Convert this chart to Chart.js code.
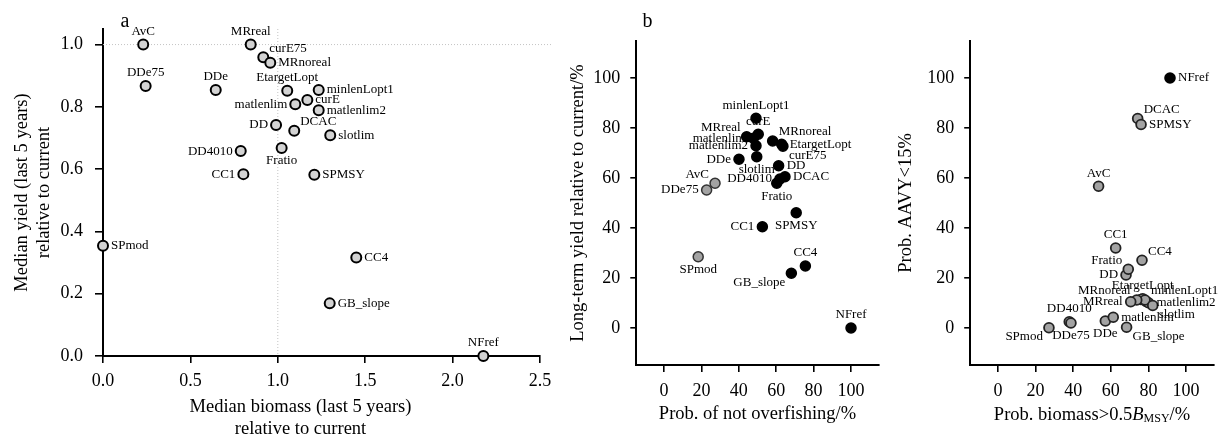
<!DOCTYPE html>
<html>
<head>
<meta charset="utf-8">
<script src="https://cdn.jsdelivr.net/npm/chart.js@4.4.1/dist/chart.umd.min.js"></script>
<style>
  body { margin: 0; background: #fff; }
  #wrap { position: relative; width: 1223px; height: 434px; overflow: hidden; background: #fff; }
  canvas { position: absolute; top: 0; }
</style>
</head>
<body>
<div id="wrap">
  <canvas id="panelA" width="560" height="460" style="left:0"></canvas>
  <canvas id="panelB" width="330" height="460" style="left:560px"></canvas>
  <canvas id="panelC" width="333" height="460" style="left:890px"></canvas>
</div>
<script>
// Management procedures, same order in every panel
const methods = ['AvC', 'CC1', 'CC4', 'curE', 'curE75', 'DCAC', 'DD', 'DD4010', 'DDe', 'DDe75',
  'EtargetLopt', 'Fratio', 'GB_slope', 'matlenlim', 'matlenlim2', 'minlenLopt1', 'MRnoreal',
  'MRreal', 'NFref', 'slotlim', 'SPmod', 'SPMSY'];

// (a) median biomass / yield over the last 5 years, relative to current
const biomassRel = [0.23, 0.803, 1.449, 1.169, 0.917, 1.094, 0.99, 0.788, 0.645, 0.244,
  1.054, 1.022, 1.297, 1.10, 1.234, 1.234, 0.957, 0.845, 2.176, 1.30, 0, 1.209];
const yieldRel = [1.0, 0.584, 0.316, 0.822, 0.959, 0.723, 0.742, 0.658, 0.854, 0.867,
  0.852, 0.668, 0.169, 0.808, 0.789, 0.854, 0.942, 1.0, 0, 0.709, 0.354, 0.582];

// (b) probability of not overfishing vs long-term yield, %
const probNotOverfishing = [27.3, 52.6, 75.6, 50.4, 63.6, 64.7, 61.3, 62.0, 40.1, 22.8,
  62.9, 60.3, 68.1, 47.8, 49.2, 49.2, 58.1, 44.2, 100, 49.6, 18.3, 70.7];
const longTermYield = [57.9, 40.5, 24.8, 77.5, 72.7, 60.5, 64.9, 59.6, 67.5, 55.2,
  73.5, 57.9, 21.9, 75.9, 72.9, 83.9, 74.8, 76.5, 0, 68.5, 28.5, 46.1];

// (c) probability biomass > 0.5 BMSY vs probability AAVY < 15%, %
const probAboveHalfBmsy = [53.5, 62.6, 76.6, 76.0, 78.8, 74.3, 68.1, 37.9, 57.1, 38.8,
  77.0, 69.3, 68.4, 61.3, 80.0, 78.2, 73.8, 70.6, 91.5, 82.3, 27.1, 76.1];
const probAavyBelow15 = [56.7, 32.0, 27.1, 11.4, 10.6, 83.8, 21.2, 2.5, 2.8, 2.0,
  11.7, 23.5, 0.3, 4.3, 10.1, 11.2, 11.2, 10.5, 100, 9.0, 0.1, 81.4];

const relTicksX = [0, 0.5, 1.0, 1.5, 2.0, 2.5];
const relTicksY = [0, 0.2, 0.4, 0.6, 0.8, 1.0];
const pctTicks = [0, 20, 40, 60, 80, 100];
const unitLevel = 1;

// which side of its point each name is written on ('' = no name)
const labelPosA = ['t', 'l', 'r', 'r', 'tr', 'tr', 'l', 'l', 't', 't',
  't', 'b', 'r', 'l', 'r', 'r', 'r', 't', 't', 'r', 'r', 'r'];
const labelPosB = ['tl', 'l', 't', 't', 'br', 'r', 'r', 'l', 'l', 'l',
  'r', 'b', 'bl', 'l', 'l', 't', 'tr', 'tl', 't', 'b', 'b', 'b'];
const labelPosC = ['t', 't', 'tr', '', '', 'tr', 'l', 't', 'b', 'b',
  't', 'tl', 'br', 'r', 'r', 'tr', 'tl', 'l', 'r', 'br', 'bl', 'r'];
const greyInB = ['AvC', 'DDe75', 'SPmod'];

const SERIF = '"Liberation Serif", "Times New Roman", serif';

// names written beside the points
const pointNames = {
  id: 'pointNames',
  afterDatasetsDraw(chart) {
    const ctx = chart.ctx;
    chart.data.datasets.forEach((ds, i) => {
      if (!ds.names) return;
      const meta = chart.getDatasetMeta(i);
      ctx.save();
      ctx.font = '13px ' + SERIF;
      ctx.fillStyle = '#000';
      ctx.textBaseline = 'middle';
      meta.data.forEach((pt, j) => {
        const pos = ds.namePos[j];
        if (!pos) return;
        let dx = 0, dy = 0, align = 'center';
        if (pos === 't') dy = -13;
        else if (pos === 'b') dy = 13;
        else if (pos === 'l') { dx = -8; align = 'right'; }
        else if (pos === 'r') { dx = 8; align = 'left'; }
        else {
          dx = pos[1] === 'l' ? -6 : 6;
          dy = pos[0] === 't' ? -9 : 9;
          align = pos[1] === 'l' ? 'right' : 'left';
        }
        ctx.textAlign = align;
        ctx.fillText(ds.names[j], pt.x + dx, pt.y + dy);
      });
      ctx.restore();
    });
  }
};

// dotted guides at 1.0 on both axes of panel a
const unitGuides = {
  id: 'unitGuides',
  beforeDatasetsDraw(chart) {
    const { ctx, chartArea: area, scales: { x, y } } = chart;
    const px = x.getPixelForValue(unitLevel);
    const py = y.getPixelForValue(unitLevel);
    ctx.save();
    ctx.strokeStyle = '#c4c4c4';
    ctx.lineWidth = 1;
    ctx.setLineDash([1, 2]);
    ctx.beginPath();
    ctx.moveTo(area.left, py);
    ctx.lineTo(area.right + 13, py);
    ctx.moveTo(px, area.top);
    ctx.lineTo(px, area.bottom);
    ctx.stroke();
    ctx.restore();
  }
};

function panelLetter(letter, x) {
  return {
    id: 'panelLetter',
    afterDraw(chart) {
      const ctx = chart.ctx;
      ctx.save();
      ctx.font = '20px ' + SERIF;
      ctx.fillStyle = '#000';
      ctx.textAlign = 'center';
      ctx.textBaseline = 'alphabetic';
      ctx.fillText(letter, x, 27);
      ctx.restore();
    }
  };
}

// two-line x title of panel a, sitting a little left of the axis centre
const biomassTitle = {
  id: 'biomassTitle',
  afterDraw(chart) {
    const { ctx, chartArea: area } = chart;
    const cx = (area.left + area.right) / 2 - 21;
    ctx.save();
    ctx.font = '18.5px ' + SERIF;
    ctx.fillStyle = '#000';
    ctx.textAlign = 'center';
    ctx.textBaseline = 'middle';
    ctx.fillText('Median biomass (last 5 years)', cx, area.bottom + 51);
    ctx.fillText('relative to current', cx, area.bottom + 73);
    ctx.restore();
  }
};

// x title of panel c: italic B with MSY subscript
const bmsyTitle = {
  id: 'bmsyTitle',
  afterDraw(chart) {
    const { ctx, chartArea: area } = chart;
    const parts = [
      { t: 'Prob. biomass>0.5', f: '18.5px ' + SERIF, dy: 0 },
      { t: 'B', f: 'italic 18.5px ' + SERIF, dy: 0 },
      { t: 'MSY', f: '12px ' + SERIF, dy: 4 },
      { t: '/%', f: '18.5px ' + SERIF, dy: 0 }
    ];
    ctx.save();
    ctx.fillStyle = '#000';
    ctx.textBaseline = 'middle';
    ctx.textAlign = 'left';
    let total = 0;
    parts.forEach(p => { ctx.font = p.f; p.w = ctx.measureText(p.t).width; total += p.w; });
    let x = (area.left + area.right) / 2 - total / 2;
    const y = area.bottom + 50;
    parts.forEach(p => { ctx.font = p.f; ctx.fillText(p.t, x, y + p.dy); x += p.w; });
    ctx.restore();
  }
};

function axis(dir, o) {
  return {
    type: 'linear',
    min: o.min,
    max: o.max,
    afterBuildTicks: s => { s.ticks = o.ticks.map(v => ({ value: v })); },
    afterFit: s => { if (dir === 'x') s.height = o.size; else s.width = o.size; },
    border: { display: true, color: '#000', width: 2 },
    grid: { drawOnChartArea: false, drawTicks: true, tickLength: o.tickLength, color: '#000', lineWidth: 1.6 },
    ticks: {
      color: '#000', padding: o.pad, maxRotation: 0, autoSkip: false,
      font: { family: SERIF, size: 18 },
      callback: o.fmt
    },
    title: o.title
      ? { display: true, text: o.title, color: '#000', padding: o.titlePad,
          font: { family: SERIF, size: 18.5, lineHeight: 1.2 } }
      : { display: false }
  };
}

function baseOptions(padding, scales) {
  return {
    responsive: false,
    animation: false,
    devicePixelRatio: 1,
    events: [],
    layout: { padding: padding, autoPadding: false },
    plugins: { legend: { display: false }, tooltip: { enabled: false } },
    scales: scales
  };
}

const oneDecimal = v => v.toFixed(1);
const whole = v => String(v);

// Panel a
new Chart(document.getElementById('panelA'), {
  type: 'scatter',
  data: {
    datasets: [{
      data: methods.map((m, i) => ({ x: biomassRel[i], y: yieldRel[i] })),
      names: methods,
      namePos: labelPosA,
      clip: false,
      pointRadius: 5,
      pointBackgroundColor: '#d3d3d3',
      pointBorderColor: '#000',
      pointBorderWidth: 2
    }]
  },
  options: baseOptions({ left: 0, top: 29, right: 20, bottom: 0 }, {
    x: axis('x', { min: 0, max: 2.5, ticks: relTicksX, size: 104, tickLength: 7, pad: 7.5, fmt: oneDecimal }),
    y: axis('y', { min: 0, max: 1.05, ticks: relTicksY, size: 103, tickLength: 8, pad: 12, fmt: oneDecimal,
      title: ['Median yield (last 5 years)', 'relative to current'], titlePad: { top: 11.3, bottom: 0 } })
  }),
  plugins: [unitGuides, pointNames, biomassTitle, panelLetter('a', 125)]
});

// Panel b
new Chart(document.getElementById('panelB'), {
  type: 'scatter',
  data: {
    datasets: [{
      data: methods.map((m, i) => ({ x: probNotOverfishing[i], y: longTermYield[i] })),
      names: methods,
      namePos: labelPosB,
      clip: false,
      pointRadius: 5,
      pointBackgroundColor: methods.map(m => greyInB.includes(m) ? '#a3a3a3' : '#000'),
      pointBorderColor: methods.map(m => greyInB.includes(m) ? '#333' : '#000'),
      pointBorderWidth: 1.5
    }]
  },
  options: baseOptions({ left: 0, top: 41, right: 11.3, bottom: 0 }, {
    x: axis('x', { min: -14.8, max: 114.8, ticks: pctTicks, size: 95, tickLength: 7, pad: 8.5, fmt: whole,
      title: 'Prob. of not overfishing/%', titlePad: { top: 0, bottom: 34.5 } }),
    y: axis('y', { min: -14.8, max: 114.8, ticks: pctTicks, size: 76.3, tickLength: 6, pad: 10, fmt: whole,
      title: 'Long-term yield relative to current/%', titlePad: { top: 6.6, bottom: 0 } })
  }),
  plugins: [pointNames, panelLetter('b', 87.5)]
});

// Panel c
new Chart(document.getElementById('panelC'), {
  type: 'scatter',
  data: {
    datasets: [{
      data: methods.map((m, i) => ({ x: probAboveHalfBmsy[i], y: probAavyBelow15[i] })),
      names: methods,
      namePos: labelPosC,
      clip: false,
      pointRadius: 4.9,
      pointBackgroundColor: methods.map(m => m === 'NFref' ? '#000' : '#a3a3a3'),
      pointBorderColor: methods.map(m => m === 'NFref' ? '#000' : '#222'),
      pointBorderWidth: 1.8
    }]
  },
  options: baseOptions({ left: 0, top: 41, right: 9.2, bottom: 0 }, {
    x: axis('x', { min: -14.8, max: 114.8, ticks: pctTicks, size: 95, tickLength: 7, pad: 8.5, fmt: whole }),
    y: axis('y', { min: -14.8, max: 114.8, ticks: pctTicks, size: 80.2, tickLength: 6, pad: 10, fmt: whole,
      title: 'Prob. AAVY<15%', titlePad: { top: 4.9, bottom: 0 } })
  }),
  plugins: [pointNames, bmsyTitle]
});
</script>
</body>
</html>
